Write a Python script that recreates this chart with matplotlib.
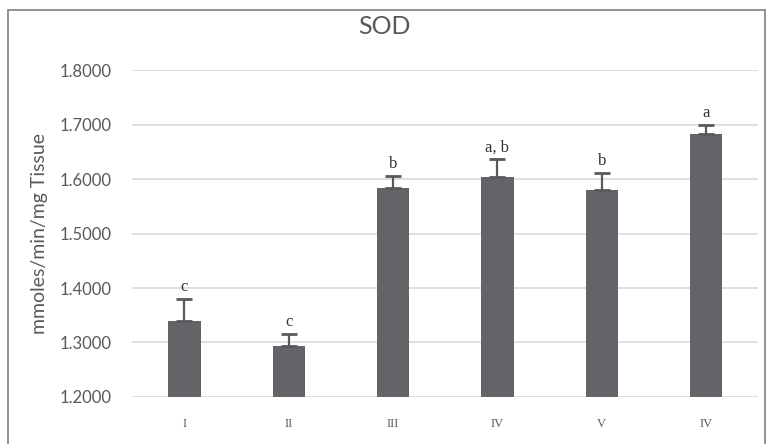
import matplotlib.pyplot as plt
from matplotlib.patches import Rectangle

# data
groups = ["I", "II", "III", "IV", "V", "IV"]
sod = [1.340, 1.294, 1.583, 1.604, 1.580, 1.682]
err = [0.040, 0.021, 0.023, 0.032, 0.031, 0.017]
letters = ["c", "c", "b", "a, b", "b", "a"]

plt.rcParams['font.family'] = ['Lato', 'DejaVu Sans']

fig = plt.figure(figsize=(7.69, 4.44), dpi=100)
ax = fig.add_axes([0.172, 0.106, 0.814, 0.736])

x = list(range(len(groups)))
ax.bar(x, [v - 1.2 for v in sod], bottom=1.2, width=0.31, color='#636467', zorder=3)
ax.errorbar(x, sod, yerr=[[0] * len(err), err], fmt='none', ecolor='#58595b',
            elinewidth=1.6, capsize=5.5, capthick=2, zorder=4)

for xi, v, e, lab in zip(x, sod, err, letters):
    ax.annotate(lab, (xi, v + e), xytext=(0, 3), textcoords='offset points',
                ha='center', va='bottom', fontsize=12, color='#333333',
                family='Liberation Serif')

ax.set_ylim(1.2, 1.8)
ax.set_xlim(-0.5, len(groups) - 0.5)
ax.set_yticks([1.2, 1.3, 1.4, 1.5, 1.6, 1.7, 1.8])
ax.set_yticklabels(["%.4f" % t for t in ax.get_yticks()], fontsize=12, color='#595959')
ax.set_xticks(x)
ax.set_xticklabels(groups, fontsize=9, color='#595959', family='Liberation Serif')
ax.tick_params(axis='y', length=0, pad=15)
ax.tick_params(axis='x', length=0, pad=15)
ax.grid(axis='y', color='#d9d9d9', linewidth=1.2, zorder=0)
for sp in ax.spines.values():
    sp.set_visible(False)

ax.set_ylabel("mmoles/min/mg Tissue", fontsize=14, color='#595959', labelpad=8)
fig.text(0.5, 1 - 26 / 444, "SOD", fontsize=18, color='#595959',
         ha='center', va='center')

# outer frame, cut at the bottom like the reference
fig.patches.append(Rectangle((8 / 769, -0.05), 757 / 769, 1.05 - 10 / 444,
                             transform=fig.transFigure, fill=False,
                             edgecolor='#7f7f7f', linewidth=1.2))

fig.savefig("out.png", dpi=100)
